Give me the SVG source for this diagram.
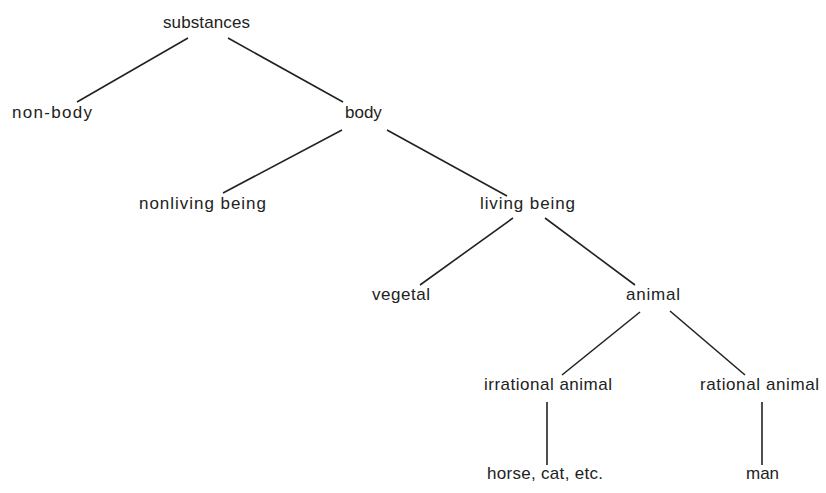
<svg xmlns="http://www.w3.org/2000/svg" width="826" height="493" viewBox="0 0 826 493">
<style>
text{font-family:"Liberation Sans",Arial,sans-serif;font-size:17px;fill:#222}
line{stroke:#222;stroke-width:1.6}
</style>
<rect width="826" height="493" fill="#fff"/>
<g id="connectors">
<line x1="188" y1="38" x2="77" y2="102"/>
<line x1="228" y1="38" x2="343" y2="102"/>
<line x1="342" y1="130" x2="223" y2="193"/>
<line x1="387" y1="130" x2="507" y2="196"/>
<line x1="513" y1="218" x2="420" y2="285"/>
<line x1="545" y1="218" x2="635" y2="285"/>
<line x1="640" y1="312" x2="562" y2="375"/>
<line x1="670" y1="311" x2="745" y2="375"/>
<line x1="547" y1="402" x2="547" y2="465"/>
<line x1="762" y1="402" x2="762" y2="465"/>
</g>
<g id="substances"><text x="163" y="28" textLength="87">substances</text></g>
<g id="non-body"><text x="12" y="118" textLength="80">non-body</text></g>
<g id="body"><text x="345" y="118">body</text></g>
<g id="nonliving-being"><text x="139" y="209" textLength="127">nonliving being</text></g>
<g id="living-being"><text x="480" y="209" textLength="95">living being</text></g>
<g id="vegetal"><text x="372" y="300" textLength="58">vegetal</text></g>
<g id="animal"><text x="626" y="300" textLength="54">animal</text></g>
<g id="irrational-animal"><text x="484" y="390" textLength="128">irrational animal</text></g>
<g id="rational-animal"><text x="700" y="390" textLength="119">rational animal</text></g>
<g id="horse"><text x="487" y="479" textLength="116">horse, cat, etc.</text></g>
<g id="man"><text x="746" y="479">man</text></g>
</svg>
